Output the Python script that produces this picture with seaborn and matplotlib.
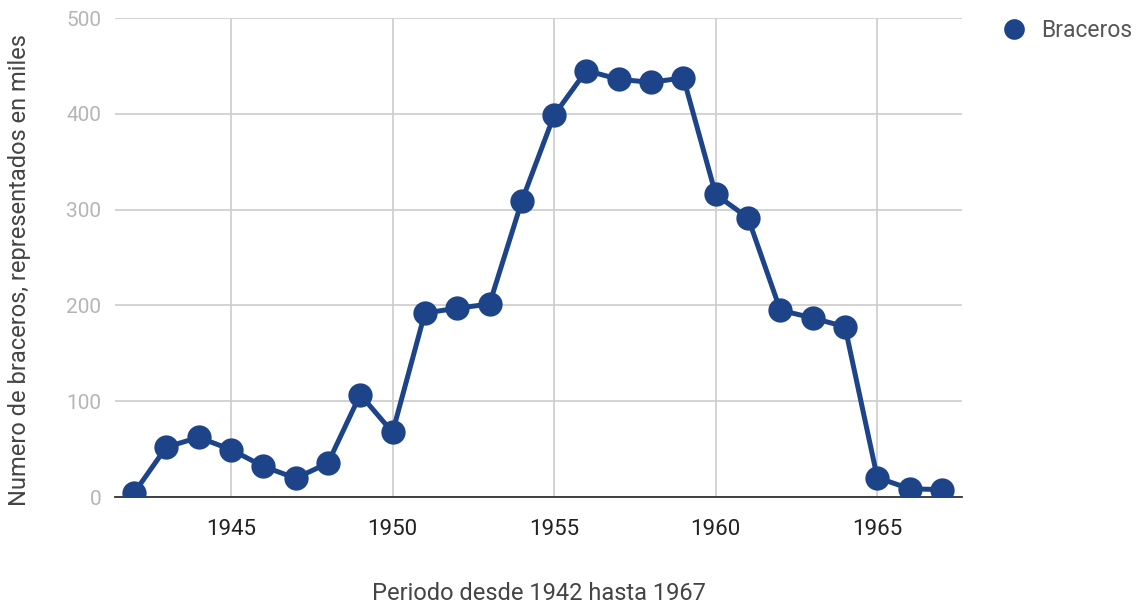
import matplotlib
matplotlib.use("Agg")
import matplotlib.pyplot as plt
import seaborn as sns
import pandas as pd

# Data (miles de braceros por año)
years = [1942, 1943, 1944, 1945, 1946, 1947, 1948, 1949, 1950, 1951, 1952, 1953, 1954,
         1955, 1956, 1957, 1958, 1959, 1960, 1961, 1962, 1963, 1964, 1965, 1966, 1967]
braceros = [4.2, 52.1, 62.2, 49.5, 32.0, 19.6, 35.3, 107.0, 67.5, 192.0, 197.1, 201.4, 309.0,
            398.7, 445.2, 436.0, 432.9, 437.6, 315.8, 291.4, 195.0, 186.9, 177.7, 20.3, 8.6, 7.7]
x_ticks = [1945, 1950, 1955, 1960, 1965]
y_ticks = [0, 100, 200, 300, 400, 500]

data = pd.DataFrame({'year': years, 'Braceros': braceros})

sns.set_style("white")
plt.rcParams['font.family'] = ['Roboto', 'DejaVu Sans']

blue = '#1d4489'

fig = plt.figure(figsize=(11.36, 6.05), dpi=100)
ax = fig.add_axes([0.1012, 0.1785, 0.7456, 0.7917])

sns.lineplot(data=data, x='year', y='Braceros', ax=ax, color=blue, linewidth=3.6,
             marker='o', markersize=17.5, markeredgewidth=0, label='Braceros', zorder=3)

ax.set_xlim(1941.41, 1967.62)
ax.set_ylim(0, 500)
ax.set_xticks(x_ticks)
ax.set_yticks(y_ticks)
ax.grid(True, color='#cccccc', linewidth=1.2)
ax.set_axisbelow(True)
for side in ['top', 'right', 'left']:
    ax.spines[side].set_visible(False)
ax.spines['bottom'].set_color('#333333')
ax.spines['bottom'].set_linewidth(1.3)
ax.tick_params(axis='both', length=0)
ax.tick_params(axis='y', labelcolor='#b5b5b5', labelsize=15, pad=10)
ax.tick_params(axis='x', labelcolor='#222222', labelsize=16, pad=16)

ax.set_xlabel('Periodo desde 1942 hasta 1967', fontsize=17, color='#444444', labelpad=30)
ax.set_ylabel('Numero de braceros, representados en miles', fontsize=17, color='#444444')
ax.yaxis.set_label_coords(-0.099, 0.474)

leg = ax.legend(loc='upper left', bbox_to_anchor=(1.024, 1.04), frameon=False,
                fontsize=16.5, handlelength=1.0, handletextpad=0.67, markerscale=0.85)
for h in leg.legend_handles:
    h.set_linestyle('')
for t in leg.get_texts():
    t.set_color('#555555')

fig.savefig('out.png', dpi=100)
